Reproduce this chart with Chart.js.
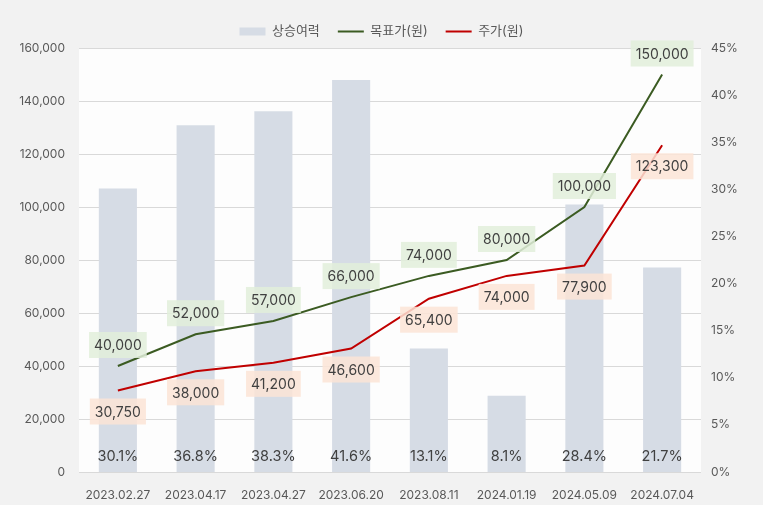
<!DOCTYPE html>
<html>
<head>
<meta charset="utf-8">
<script src="https://cdn.jsdelivr.net/npm/chart.js@4"></script>
<style>
  body { margin: 0; background: #f2f2f2; }
  #wrap { width: 763px; height: 505px; }
</style>
</head>
<body>
<div id="wrap"><canvas id="chart"></canvas></div>
<script>
const dates = ['2023.02.27', '2023.04.17', '2023.04.27', '2023.06.20', '2023.08.11', '2024.01.19', '2024.05.09', '2024.07.04'];
const upside = [30.1, 36.8, 38.3, 41.6, 13.1, 8.1, 28.4, 21.7];
const target = [40000, 52000, 57000, 66000, 74000, 80000, 100000, 150000];
const price = [30750, 38000, 41200, 46600, 65400, 74000, 77900, 123300];

const FONT = "Inter, 'Noto Sans CJK KR', sans-serif";
const TEXT = '#595959';

// white plot area on the grey page
const plotBg = {
  id: 'plotBg',
  beforeDraw(chart) {
    const { ctx, chartArea: a } = chart;
    ctx.save();
    ctx.fillStyle = '#fdfdfd';
    ctx.fillRect(a.left, a.top, a.right - a.left, a.bottom - a.top);
    ctx.restore();
  }
};

// value labels with boxes
const labels = {
  id: 'labels',
  afterDatasetsDraw(chart) {
    const ctx = chart.ctx;
    ctx.save();
    ctx.font = '14px ' + FONT;
    ctx.textAlign = 'center';
    ctx.textBaseline = 'middle';

    const box = (pt, text, dy, fill) => {
      const w = ctx.measureText(text).width + 10;
      const h = 26;
      const cy = pt.y + dy;
      ctx.fillStyle = fill;
      ctx.fillRect(pt.x - w / 2, cy - h / 2, w, h);
      ctx.fillStyle = '#404040';
      ctx.fillText(text, pt.x, cy + 1);
    };

    chart.getDatasetMeta(1).data.forEach((pt, i) =>
      box(pt, target[i].toLocaleString('en-US'), -21, 'rgba(226,239,218,0.85)'));
    chart.getDatasetMeta(2).data.forEach((pt, i) =>
      box(pt, price[i].toLocaleString('en-US'), 21, 'rgba(252,228,214,0.85)'));

    const base = chart.scales.y1.getPixelForValue(0);
    ctx.font = '14.5px ' + FONT;
    ctx.fillStyle = '#404040';
    chart.getDatasetMeta(0).data.forEach((bar, i) => {
      ctx.fillText(upside[i].toFixed(1) + '%', bar.x, base - 15);
    });
    ctx.restore();
  }
};

new Chart(document.getElementById('chart'), {
  data: {
    labels: dates,
    datasets: [
      {
        type: 'bar', label: '상승여력', data: upside, yAxisID: 'y1',
        backgroundColor: '#d6dce5', categoryPercentage: 1, barPercentage: 0.49, order: 3
      },
      {
        type: 'line', label: '목표가(원)', data: target, yAxisID: 'y',
        borderColor: '#3b5b22', backgroundColor: '#3b5b22', borderWidth: 2,
        pointRadius: 0, tension: 0, order: 1
      },
      {
        type: 'line', label: '주가(원)', data: price, yAxisID: 'y',
        borderColor: '#c00000', backgroundColor: '#c00000', borderWidth: 2,
        pointRadius: 0, tension: 0, order: 2
      }
    ]
  },
  options: {
    responsive: true,
    maintainAspectRatio: false,
    animation: false,
    layout: { padding: { top: 7 } },
    plugins: {
      tooltip: { enabled: false },
      legend: {
        position: 'top',
        labels: {
          usePointStyle: true, pointStyleWidth: 26, boxHeight: 8,
          color: TEXT, font: { family: FONT, size: 13 }, padding: 18,
          sort: (a, b) => a.datasetIndex - b.datasetIndex,
          generateLabels(chart) {
            const items = Chart.defaults.plugins.legend.labels.generateLabels(chart);
            items.forEach(it => {
              if (it.datasetIndex === 0) { it.pointStyle = 'rect'; it.lineWidth = 0; }
              else { it.pointStyle = 'line'; it.lineWidth = 2; it.strokeStyle = chart.data.datasets[it.datasetIndex].borderColor; }
            });
            return items;
          }
        }
      }
    },
    scales: {
      x: {
        grid: { display: false },
        border: { display: false },
        ticks: { color: TEXT, font: { family: FONT, size: 12 }, padding: 8, maxRotation: 0 },
        afterFit(s) { s.height = 33; }
      },
      y: {
        position: 'left', min: 0, max: 160000,
        ticks: { stepSize: 20000, color: TEXT, font: { family: FONT, size: 12 }, padding: 14,
          callback: v => v.toLocaleString('en-US') },
        grid: { color: '#d9d9d9', drawTicks: false },
        border: { display: false },
        afterFit(s) { s.width = 79; }
      },
      y1: {
        position: 'right', min: 0, max: 45,
        ticks: { stepSize: 5, color: TEXT, font: { family: FONT, size: 12 }, padding: 10,
          callback: v => v + '%' },
        grid: { display: false, drawTicks: false },
        border: { display: false },
        afterFit(s) { s.width = 62; }
      }
    }
  },
  plugins: [plotBg, labels]
});
</script>
</body>
</html>
